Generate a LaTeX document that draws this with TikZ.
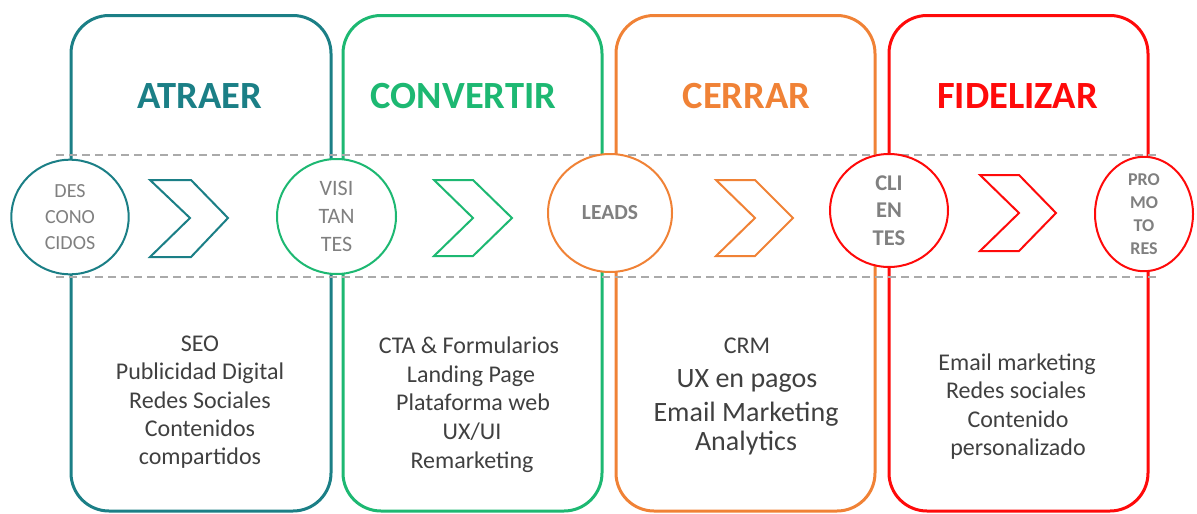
\documentclass[tikz,border=0pt]{standalone}
\usepackage{fontspec}
\setmainfont{Carlito}
\usetikzlibrary{shapes.geometric}
\definecolor{cteal}{HTML}{1B7F86}
\definecolor{cgreen}{HTML}{1DB872}
\definecolor{corange}{HTML}{F08236}
\definecolor{cred}{HTML}{FF0A0A}
\definecolor{cgray}{HTML}{808080}
\definecolor{ctext}{HTML}{404040}
\definecolor{cdash}{HTML}{AAAAAA}
\tikzset{
  stagebox/.style={line width=3pt, rounded corners=38pt},
  stagetitle/.style={font=\bfseries\fontsize{38.5}{40}\selectfont, anchor=base},
  guide/.style={cdash, line width=1.5pt, dash pattern=on 8pt off 5pt},
  stagecirc/.style={ellipse, draw, line width=2pt, fill=white, inner sep=0pt, align=center, text=cgray},
  chev/.style={line width=2pt, line join=miter},
  itemA/.style={anchor=base, text=ctext, font=\fontsize{24}{28}\selectfont},
  itemB/.style={anchor=base, text=ctext, font=\fontsize{28}{32}\selectfont},
}
\begin{document}
\begin{tikzpicture}[x=1pt,y=-1pt]
\useasboundingbox (0,0) rectangle (1197,514);
% boxes
\draw[stagebox, cteal]   (71,15.5) rectangle (331,511);
\draw[stagebox, cgreen]  (343,15.5) rectangle (602,511);
\draw[stagebox, corange] (616,15.5) rectangle (875,511);
\draw[stagebox, cred]    (889,15.5) rectangle (1148,511);
% titles
\node[stagetitle, text=cteal]   (t1) at (200,108) {ATRAER};
\node[stagetitle, text=cgreen]  (t2) at (463.5,108) {CONVERTIR};
\node[stagetitle, text=corange] (t3) at (746.5,108) {CERRAR};
\node[stagetitle, text=cred]    (t4) at (1017.5,108) {FIDELIZAR};
% dashed guides
\draw[guide] (56,155) -- (1160,155);
\draw[guide] (56,277) -- (1160,277);
% circles
\node[stagecirc, draw=cteal, minimum width=117.4pt, minimum height=114.6pt,
      font=\fontsize{20}{26}\selectfont] (c1) at (70,217) {DES\\CONO\\CIDOS};
\node[stagecirc, draw=cgreen, minimum width=119pt, minimum height=115pt,
      font=\fontsize{22}{28}\selectfont] (c2) at (336.5,216.5) {VISI\\TAN\\TES};
\node[stagecirc, draw=corange, minimum width=124pt, minimum height=118pt,
      font=\bfseries\fontsize{21.5}{26}\selectfont] (c3) at (610,213) {LEADS};
\node[stagecirc, draw=cred, minimum width=118pt, minimum height=113pt,
      font=\bfseries\fontsize{22.5}{27.5}\selectfont] (c4) at (889,210.5) {CLI\\EN\\TES};
\node[stagecirc, draw=cred, minimum width=98pt, minimum height=104pt,
      font=\bfseries\fontsize{18}{23}\selectfont] (c5) at (1144,214) {PRO\\MO\\TO\\RES};
% chevrons
\draw[chev, cteal]   (150,180) -- (191,180) -- (228,218) -- (191,257) -- (150,257) -- (190,218) -- cycle;
\draw[chev, cgreen]  (434,180) -- (473,180) -- (512,218) -- (473,256) -- (434,256) -- (473,218) -- cycle;
\draw[chev, corange] (716,180) -- (755,180) -- (793,218) -- (755,256) -- (716,256) -- (755,218) -- cycle;
\draw[chev, cred]    (980,175) -- (1019,175) -- (1056,213) -- (1019,251) -- (980,251) -- (1019,213) -- cycle;
% column 1
\node[itemA] (a1) at (200,351.5) {SEO};
\node[itemA] (a2) at (200,379.8) {Publicidad Digital};
\node[itemA] (a3) at (200,408) {Redes Sociales};
\node[itemA] (a4) at (200,436.5) {Contenidos};
\node[itemA] (a5) at (200,464.8) {compartidos};
% column 2
\node[itemA] (b1) at (469,353.5) {CTA \& Formularios};
\node[itemA] (b2) at (471,382.5) {Landing Page};
\node[itemA] (b3) at (473,410.5) {Plataforma web};
\node[itemA] (b4) at (472,439.5) {UX/UI};
\node[itemA] (b5) at (472,468) {Remarketing};
% column 3
\node[itemA] (d1) at (747,353) {CRM};
\node[itemB] (d2) at (747,387.4) {UX en pagos};
\node[itemB] (d3) at (746,421.9) {Email Marketing};
\node[itemB] (d4) at (746,450.6) {Analytics};
% column 4
\node[itemA] (e1) at (1017,370.6) {Email marketing};
\node[itemA] (e2) at (1016,398.6) {Redes sociales};
\node[itemA] (e3) at (1018,427.3) {Contenido};
\node[itemA] (e4) at (1018,455.6) {personalizado};
\end{tikzpicture}
\end{document}
